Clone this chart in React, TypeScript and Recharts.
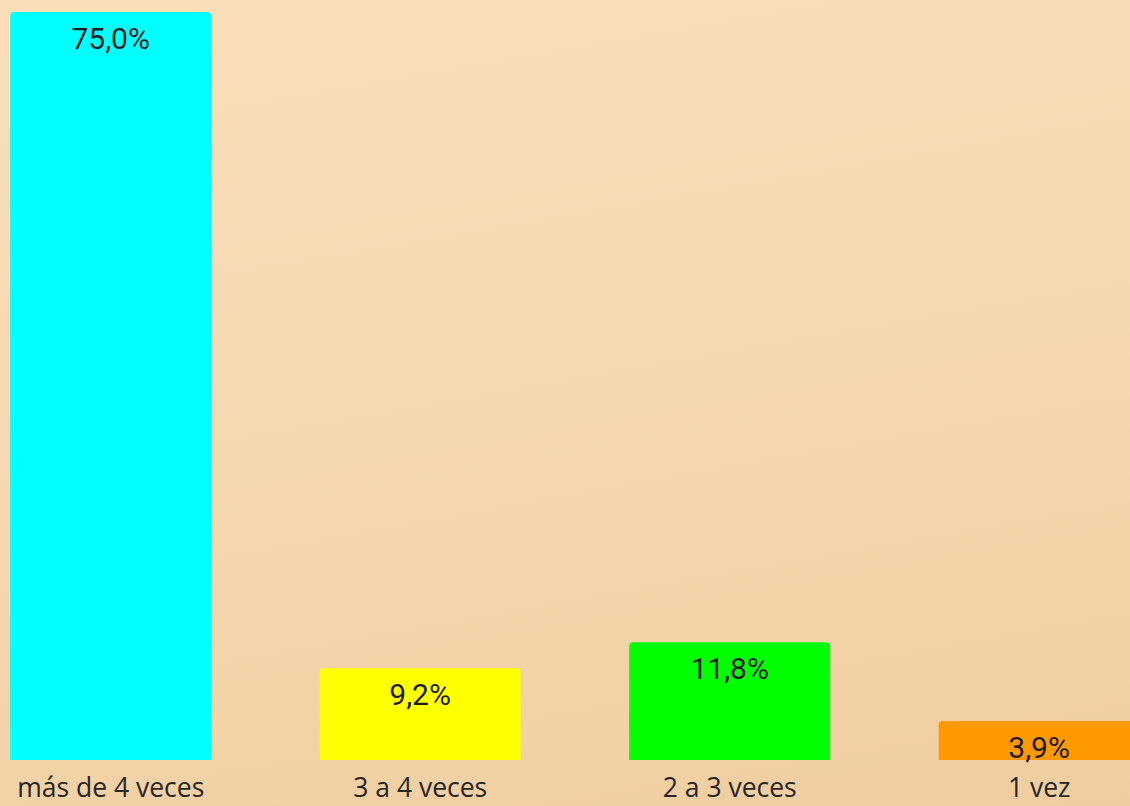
import { BarChart, Bar, XAxis, YAxis, Cell, LabelList } from 'recharts';

const categories = ['más de 4 veces', '3 a 4 veces', '2 a 3 veces', '1 vez'];
const values = [75.0, 9.2, 11.8, 3.9];
const colors = ['#00ffff', '#ffff00', '#00ff00', '#ff9900'];

const data = categories.map((name, i) => ({ name, value: values[i] }));

const fmt = (v: number) => v.toFixed(1).replace('.', ',') + '%';

const ValueLabel = (props: any) => {
    const { x, y, width, value } = props;
    return (
        <text
            x={x + width / 2}
            y={y + 37}
            textAnchor="middle"
            fill="#1c1c1c"
            fontFamily="Roboto"
            fontSize={30}
        >
            {fmt(value)}
        </text>
    );
};

const CategoryTick = (props: any) => {
    const { x, y, payload } = props;
    return (
        <text x={x} y={y} dy={29} textAnchor="middle" fill="#262626" fontFamily="Open Sans" fontSize={26.5}>
            {payload.value}
        </text>
    );
};

export default function App() {
    return (
        <div
            style={{
                position: 'absolute',
                left: 0,
                top: 0,
                width: 1130,
                height: 806,
                overflow: 'hidden',
                background: 'linear-gradient(170deg, #f9deb8 0%, #f6d8af 50%, #efcda0 100%)',
            }}
        >
            <div style={{ position: 'absolute', left: -44, top: 0 }}>
                <BarChart
                    width={1238}
                    height={806}
                    data={data}
                    margin={{ top: 12, right: 0, left: 0, bottom: 0 }}
                    barCategoryGap="17.5%"
                >
                    <XAxis
                        dataKey="name"
                        axisLine={false}
                        tickLine={false}
                        height={46}
                        interval={0}
                        tick={<CategoryTick />}
                    />
                    <YAxis hide domain={[0, 75]} />
                    <Bar dataKey="value" radius={[4, 4, 0, 0]} isAnimationActive={false}>
                        {data.map((d, i) => (
                            <Cell key={d.name} fill={colors[i]} />
                        ))}
                        <LabelList dataKey="value" content={<ValueLabel />} />
                    </Bar>
                </BarChart>
            </div>
        </div>
    );
}
